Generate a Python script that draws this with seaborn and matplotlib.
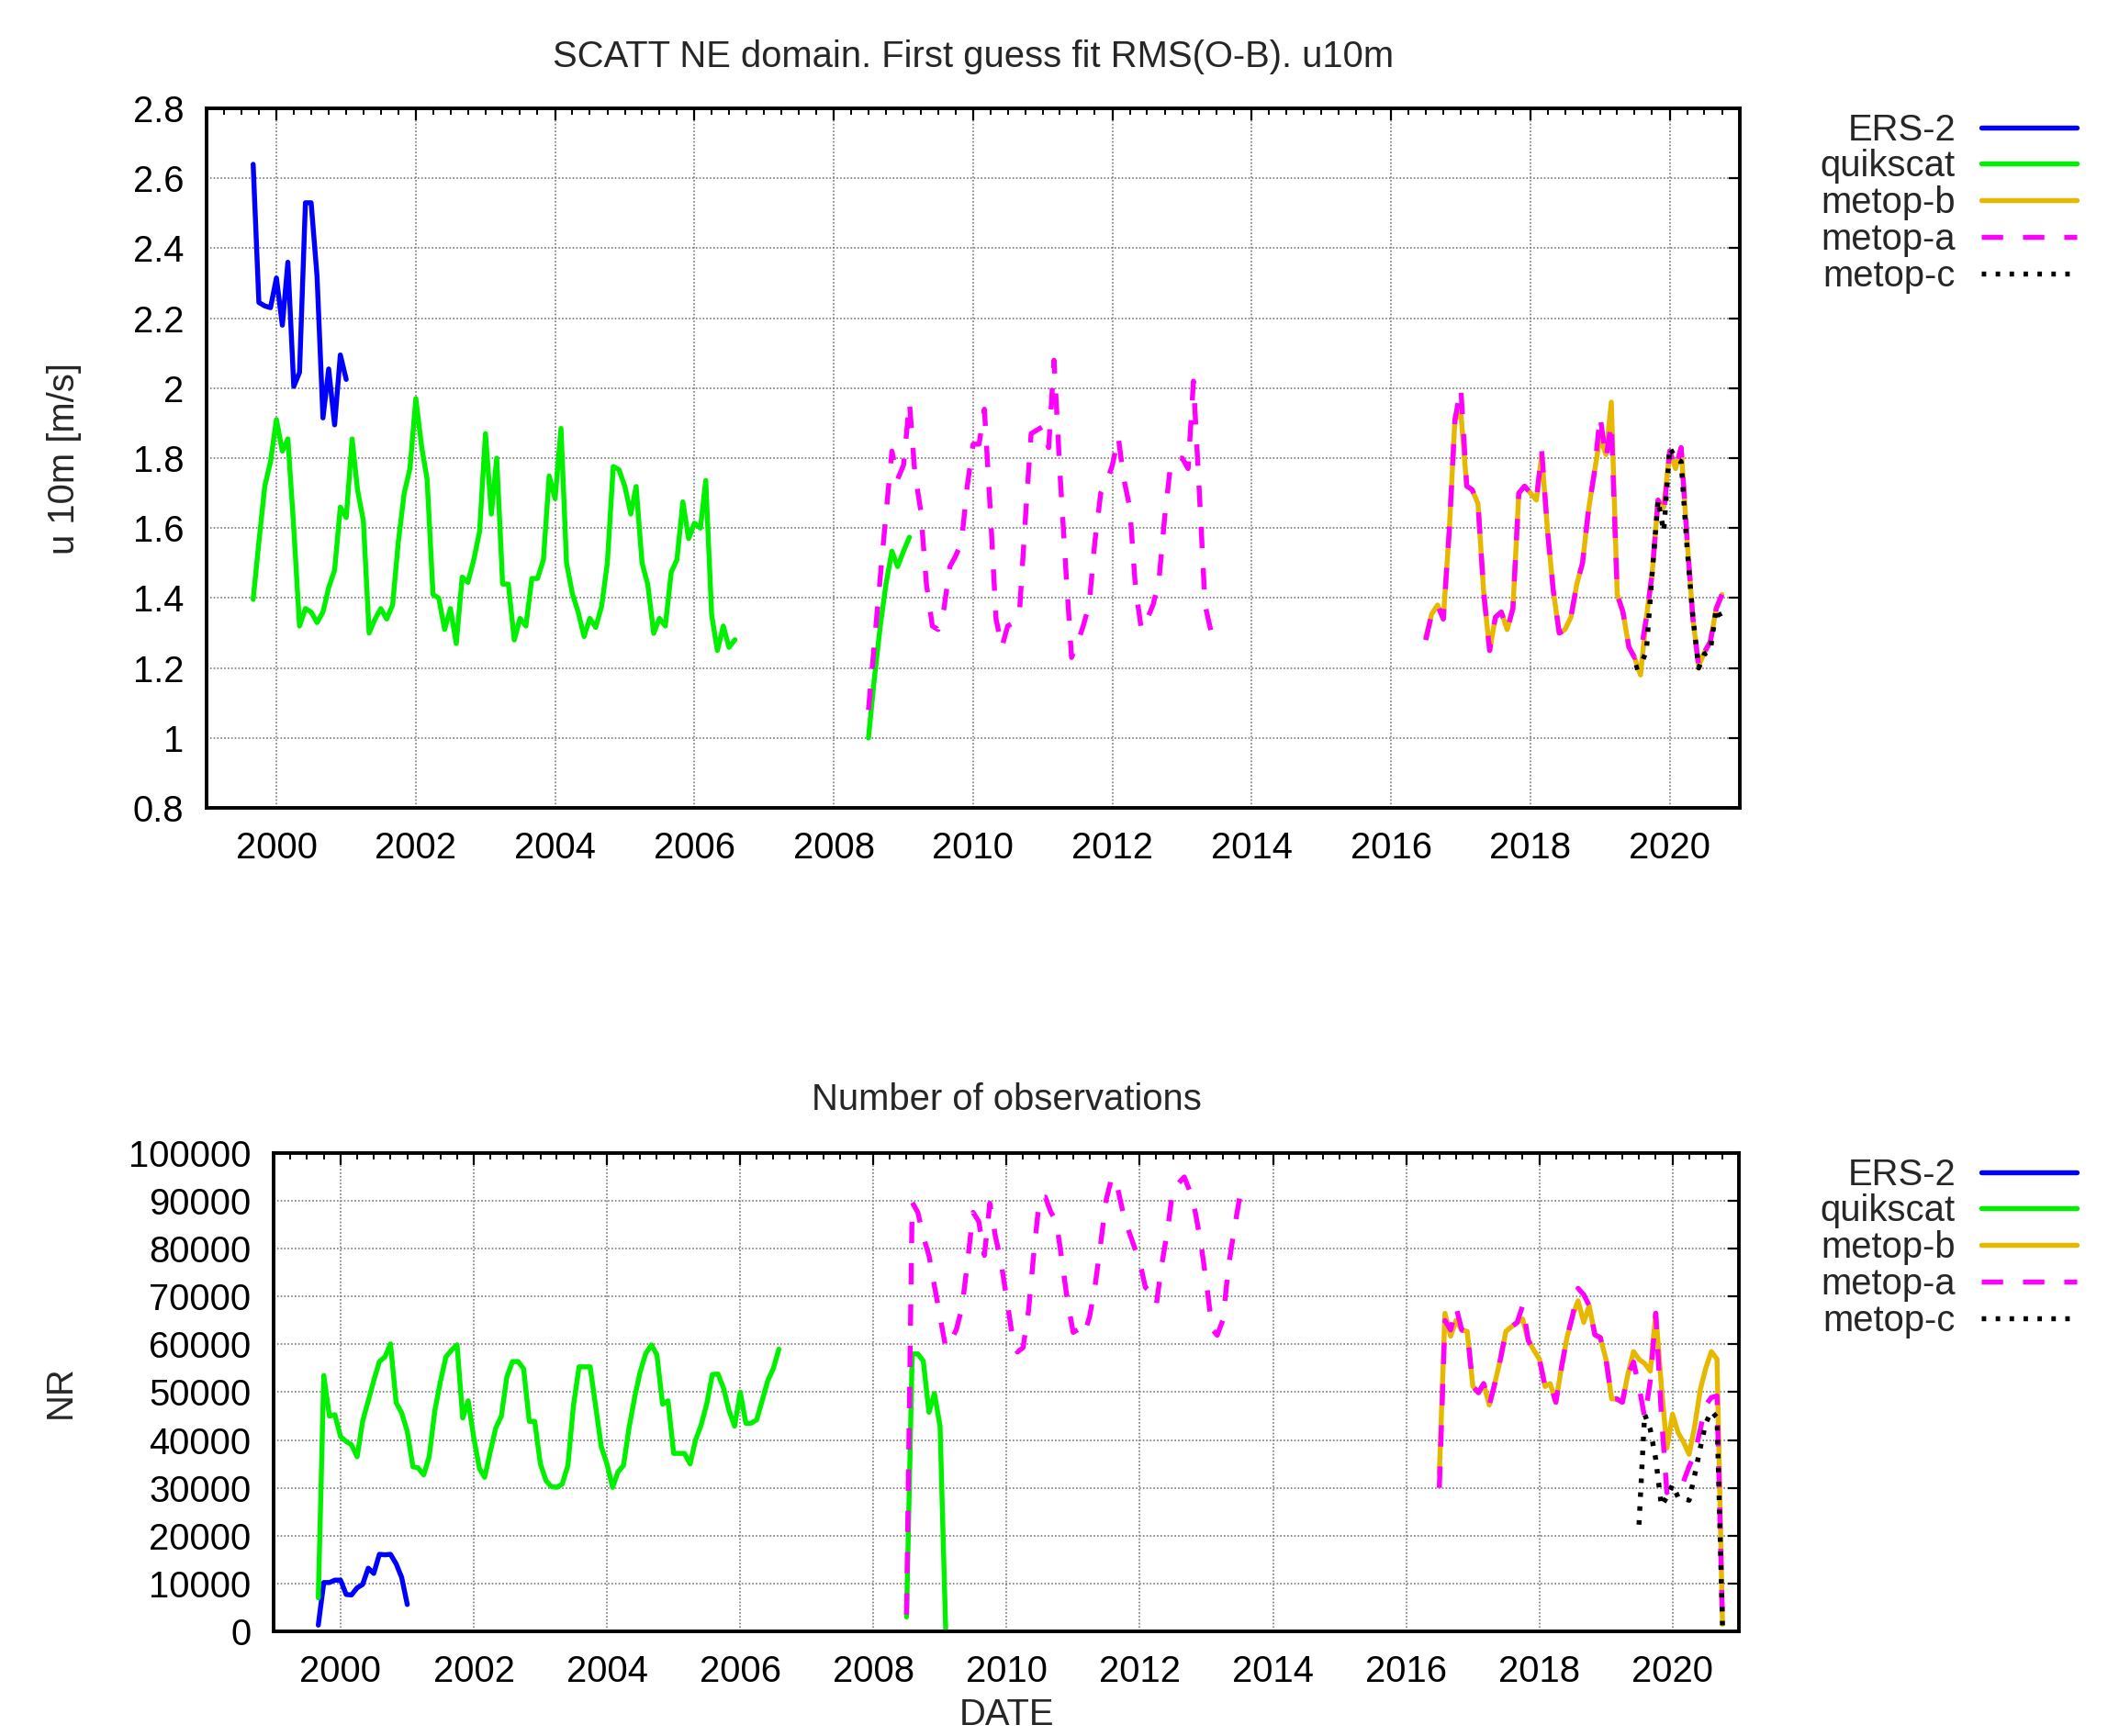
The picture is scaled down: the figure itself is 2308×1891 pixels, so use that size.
"""
SCATT NE domain: first guess fit RMS(O-B) of u10m and number of observations.
"""
import pandas as pd
import matplotlib
matplotlib.use("Agg")
import matplotlib.pyplot as plt
import matplotlib.dates as mdates
from matplotlib.lines import Line2D
from matplotlib.ticker import FuncFormatter, MultipleLocator
import seaborn as sns

# ---- data: monthly values, one list per continuous segment ----
ers2_start = ["1999-09-01"]
ers2_rms = [[2.64, 2.245, 2.235, 2.23, 2.315, 2.18, 2.36, 2.005, 2.045, 2.53,
             2.53, 2.32, 1.915, 2.055, 1.895, 2.095, 2.025]]
ers2_nobs = [[1300, 10200, 10200, 10700, 10700, 7700, 7600, 9100, 9800, 13200,
              12100, 16100, 16000, 16100, 14100, 11300, 5600]]

quikscat_start = ["1999-09-01", "2008-07-01"]
quikscat_rms = [
    [1.396, 1.56, 1.72, 1.79, 1.91, 1.82, 1.855, 1.60, 1.32, 1.37, 1.36, 1.33,
     1.36, 1.43, 1.48, 1.66, 1.63, 1.855, 1.71, 1.62, 1.30, 1.34, 1.37, 1.34,
     1.38, 1.56, 1.70, 1.77, 1.97, 1.83, 1.74, 1.41, 1.40, 1.31, 1.37, 1.27,
     1.46, 1.445, 1.51, 1.59, 1.87, 1.64, 1.80, 1.44, 1.44, 1.28, 1.342, 1.32,
     1.456, 1.456, 1.51, 1.749, 1.684, 1.885, 1.50, 1.412, 1.36, 1.29, 1.342, 1.316,
     1.377, 1.50, 1.776, 1.767, 1.719, 1.64, 1.719, 1.50, 1.439, 1.299, 1.342, 1.32,
     1.474, 1.51, 1.675, 1.57, 1.614, 1.60, 1.736, 1.351, 1.25, 1.32, 1.259, 1.281],
    [1.0, 1.17, 1.32, 1.44, 1.534, 1.49, 1.534, 1.574],
]
quikscat_nobs = [
    [7000, 53500, 45000, 45300, 40700, 39700, 39000, 36500, 43900, 48200, 52400, 56400,
     57400, 60100, 47800, 45700, 41800, 34400, 34200, 32700, 36500, 46100, 52100, 57400,
     58800, 59900, 44600, 48200, 40400, 34000, 32200, 37500, 42500, 45000, 53200, 56400,
     56400, 54900, 43900, 43900, 35000, 31500, 30300, 30100, 30800, 34700, 47100, 55300,
     55300, 55300, 46800, 38600, 35000, 30100, 33300, 34700, 42500, 48900, 54200, 58100,
     59900, 57800, 47500, 48200, 37200, 37200, 37200, 35000, 40000, 43200, 47500, 53700,
     53800, 50900, 46100, 42900, 50000, 43500, 43500, 44200, 48200, 52400, 54900, 59000],
    [3000, 58000, 58000, 56500, 45800, 49700, 42900, 0],
]

metopb_start = ["2016-07-01"]
metopb_rms = [[1.288, 1.354, 1.38, 1.34, 1.59, 1.91, 1.93, 1.72, 1.71, 1.67, 1.415, 1.25,
               1.345, 1.36, 1.31, 1.37, 1.70, 1.72, 1.70, 1.68, 1.81, 1.59, 1.42, 1.30,
               1.31, 1.345, 1.44, 1.50, 1.65, 1.755, 1.86, 1.81, 1.96, 1.41, 1.36, 1.26,
               1.23, 1.18, 1.345, 1.47, 1.68, 1.66, 1.82, 1.77, 1.83, 1.57, 1.345, 1.205,
               1.245, 1.275, 1.37, 1.41]]
metopb_nobs = [[33000, 66500, 61700, 65000, 63000, 62700, 51200, 49900, 51800, 47300, 51800, 56900,
                62700, 63700, 64600, 65300, 60800, 58800, 56900, 51200, 51800, 47900, 55000, 61400,
                65900, 69100, 64600, 68100, 62000, 61400, 56900, 48600, 48600, 47900, 53700, 58500,
                56900, 56000, 54400, 66500, 51200, 38300, 45400, 41500, 39600, 37000, 42800, 50500,
                55000, 58500, 56900, 1500]]

metopa_start = ["2008-07-01", "2016-07-01"]
metopa_rms = [
    [1.08, 1.27, 1.46, 1.64, 1.82, 1.74, 1.78, 1.96, 1.76, 1.65, 1.44, 1.32,
     1.31, 1.37, 1.49, 1.52, 1.56, 1.72, 1.84, 1.84, 1.94, 1.65, 1.34, 1.26,
     1.32, 1.33, 1.36, 1.62, 1.87, 1.88, 1.89, 1.83, 2.08, 1.76, 1.49, 1.23,
     1.27, 1.32, 1.38, 1.56, 1.70, 1.73, 1.78, 1.86, 1.74, 1.66, 1.43, 1.31,
     1.34, 1.38, 1.45, 1.63, 1.78, 1.80, 1.80, 1.77, 2.02, 1.70, 1.38, 1.305, 1.33],
    [1.28, 1.354, 1.38, 1.34, 1.59, 1.91, 2.0, 1.72, 1.71, 1.67, 1.415, 1.25,
     1.345, 1.36, 1.31, 1.37, 1.70, 1.72, 1.70, 1.68, 1.82, 1.59, 1.42, 1.30,
     1.31, 1.345, 1.44, 1.50, 1.65, 1.755, 1.92, 1.80, 1.90, 1.41, 1.36, 1.26,
     1.23, 1.24, 1.345, 1.47, 1.68, 1.64, 1.82, 1.77, 1.83, 1.57, 1.345, 1.205,
     1.245, 1.275, 1.37, 1.41],
]
metopa_nobs = [
    [3500, 89700, 87600, 82500, 78600, 72200, 65800, 59300, 60600, 63200, 67700, 77300,
     87600, 85700, 78600, 89500, 82500, 77300, 69600, 61900, 58400, 59300, 67000, 79900,
     90800, 90800, 87600, 85700, 77300, 69000, 62500, 63200, 61900, 65800, 72200, 81200,
     90200, 95000, 92800, 87600, 83800, 80500, 77300, 71900, 70900, 68300, 76700, 83800,
     92400, 93700, 95000, 92100, 87600, 81200, 72800, 63200, 61900, 65100, 76000, 83800, 90500],
    [30000, 65000, 63000, 67800, 63000, 62700, 51200, 49900, 51800, 47300, 51800, 56900,
     62700, 63700, 64600, 68100, 60800, 58800, 56900, 51200, 51800, 47900, 55000, 61400,
     65900, 71700, 70400, 68100, 62000, 61400, 56900, 48600, 48600, 47900, 53700, 56300,
     51200, 44700, 52400, 66500, 45000, 29000, 30600, 31000, 31300, 34500, 37000, 42200,
     47300, 48900, 49200, 1500],
]

metopc_start = ["2019-07-01"]
metopc_rms = [[1.20, 1.205, 1.25, 1.47, 1.68, 1.59, 1.83, 1.80, 1.79, 1.545, 1.35, 1.20,
               1.24, 1.25, 1.37, 1.34]]
metopc_nobs = [[22300, 45400, 42200, 36000, 26200, 28100, 30600, 28000, 27800, 27400, 32600, 38300,
                43500, 46000, 44700, 1200]]

satellites = ["ERS-2", "quikscat", "metop-b", "metop-a", "metop-c"]
colors = ["#0000ff", "#00f000", "#e6b800", "#ff00ff", "#000000"]
styles = ["-", "-", "-", (0, (4.3, 4.0)), (0, (0.9, 1.9))]

series = {
    "ERS-2": (ers2_start, ers2_rms, ers2_nobs),
    "quikscat": (quikscat_start, quikscat_rms, quikscat_nobs),
    "metop-b": (metopb_start, metopb_rms, metopb_nobs),
    "metop-a": (metopa_start, metopa_rms, metopa_nobs),
    "metop-c": (metopc_start, metopc_rms, metopc_nobs),
}

FS = 28.8
LW = 3.9


def segments_frame(starts, values):
    parts = []
    for i, (start, vals) in enumerate(zip(starts, values)):
        parts.append(pd.DataFrame({
            "date": pd.date_range(start, periods=len(vals), freq="MS"),
            "value": vals,
            "seg": i,
        }))
    return pd.concat(parts, ignore_index=True)


def draw_panel(ax, which, legend_y):
    for name, color, ls in zip(satellites, colors, styles):
        starts, rms, nobs = series[name]
        df = segments_frame(starts, rms if which == "rms" else nobs)
        sns.lineplot(data=df, x="date", y="value", units="seg", estimator=None,
                     color=color, linewidth=LW, linestyle=ls, ax=ax, legend=False)

    ax.set_xlim(pd.Timestamp("1999-01-01"), pd.Timestamp("2021-01-01"))
    ax.xaxis.set_major_locator(mdates.YearLocator(2))
    ax.xaxis.set_minor_locator(mdates.MonthLocator(bymonth=[1, 4, 7, 10]))
    ax.xaxis.set_major_formatter(mdates.DateFormatter("%Y"))

    ax.grid(True, which="major", color="#7a7a7a", linestyle=(0, (1, 1.3)), linewidth=1.2)
    ax.tick_params(which="both", direction="in", top=True, right=True,
                   labelsize=FS, colors="black")
    ax.tick_params(which="major", length=9, width=1.6, pad=18)
    ax.tick_params(which="minor", length=5, width=1.4)
    ax.tick_params(axis="x", which="major", pad=18)
    ax.tick_params(axis="y", which="minor", left=False, right=False)
    for sp in ax.spines.values():
        sp.set_visible(True)
        sp.set_linewidth(2.8)
        sp.set_color("black")

    handles = [Line2D([], [], color=c, linewidth=LW, linestyle=s) for c, s in zip(colors, styles)]
    pos = ax.get_position()
    anchor_x = (2262 / 2308 - pos.x0) / pos.width
    ax.legend(handles, satellites, loc="upper right", bbox_to_anchor=(anchor_x, legend_y),
              frameon=False, markerfirst=False, fontsize=FS, handlelength=2.6,
              handletextpad=0.7, labelspacing=0.045, borderpad=0, borderaxespad=0)


sns.set_theme(style="white")
plt.rcParams["font.family"] = ["Liberation Sans", "DejaVu Sans"]

fig = plt.figure(figsize=(23.08, 18.91), dpi=100)
ax1 = fig.add_axes([0.0976, 0.5346, 0.7233, 0.4030])
ax2 = fig.add_axes([0.1293, 0.0603, 0.6915, 0.2755])

# top: RMS(O-B)
draw_panel(ax1, "rms", 0.994)
ax1.set_ylim(0.8, 2.8)
ax1.yaxis.set_major_locator(MultipleLocator(0.2))
ax1.yaxis.set_major_formatter(FuncFormatter(lambda v, _: f"{v:g}"))
ax1.set_xlabel("")
ax1.set_ylabel("u 10m [m/s]", fontsize=FS, va="center")
ax1.yaxis.set_label_coords(-0.093, 0.5)
ax1.set_title("SCATT NE domain. First guess fit RMS(O-B). u10m", fontsize=FS,
              y=1.0735, pad=0, va="center")

# bottom: number of observations
draw_panel(ax2, "nobs", 0.991)
ax2.set_ylim(0, 100000)
ax2.yaxis.set_major_locator(MultipleLocator(10000))
ax2.yaxis.set_major_formatter(FuncFormatter(lambda v, _: f"{int(round(v))}"))
ax2.set_xlabel("DATE", fontsize=FS, va="center")
ax2.xaxis.set_label_coords(0.5, -0.175)
ax2.set_ylabel("NR", fontsize=FS, va="center")
ax2.yaxis.set_label_coords(-0.1457, 0.5)
ax2.set_title("Number of observations", fontsize=FS, y=1.111, pad=0, va="center")

fig.savefig("out.png", dpi=100, facecolor="white")
plt.close(fig)
